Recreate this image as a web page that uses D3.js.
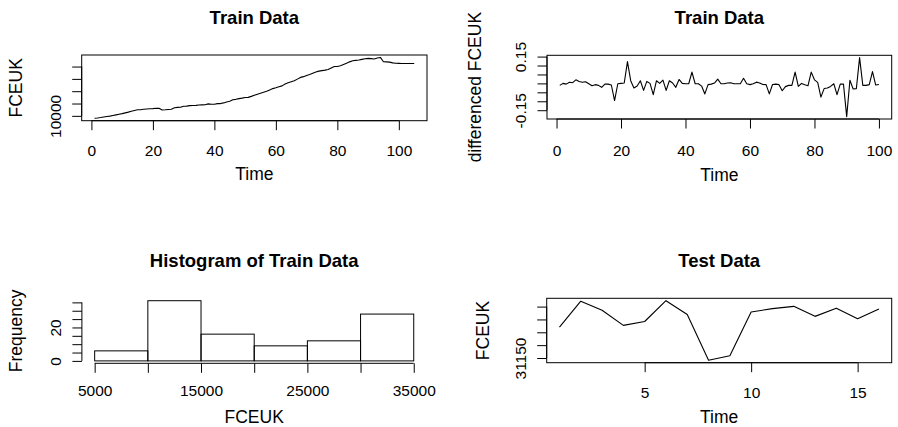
<!DOCTYPE html>
<html>
<head>
<meta charset="utf-8">
<script src="https://cdn.jsdelivr.net/npm/d3@7/dist/d3.min.js"></script>
<style>
  html, body { margin: 0; padding: 0; background: #fff; }
  svg { display: block; }
  text { font-family: "Liberation Sans", Arial, Helvetica, sans-serif; fill: #000; }
</style>
</head>
<body>
<svg id="chart" width="898" height="427"></svg>
<script>
// ---------------- DATA ----------------
const trainValues = [
  9020, 9150, 9330, 9560, 9750, 9900, 10150, 10400, 10650, 10900,
  11200, 11500, 11850, 12200, 12450, 12500, 12650, 12750, 12850, 12950,
  13100, 13050, 12350, 12450, 12600, 12700, 13300, 13450, 13500, 13900,
  13950, 14150, 14200, 14250, 14400, 14450, 14500, 14850, 14700, 14700,
  14950, 14980, 15250, 15650, 15950, 16500, 16700, 17000, 17200, 17450,
  17500, 17900, 18350, 18800, 19200, 19600, 19950, 20500, 21050, 21400,
  21800, 22150, 22900, 23400, 23800, 24200, 24900, 25600, 25900, 26400,
  26800, 27300, 27800, 28150, 28350, 28550, 28800, 29400, 30000, 30050,
  30300, 30800, 31300, 31900, 32350, 32500, 32650, 32900, 33150, 33300,
  33200, 33050, 33450, 33700, 31950, 31900, 31800, 31500, 31350, 31300,
  31250, 31250, 31250, 31250, 31250
];
const diffValues = [
  -0.011, 0.000, -0.004, 0.006, 0.004, 0.020, 0.011, 0.006, 0.009, -0.002,
  -0.013, -0.007, -0.011, -0.022, -0.004, -0.004, -0.009, -0.096, -0.002, 0.000,
  0.002, 0.122, 0.015, -0.026, -0.015, 0.015, -0.039, 0.011, 0.000, -0.063,
  0.015, 0.000, 0.018, -0.039, 0.015, 0.002, -0.022, 0.022, 0.000, -0.002,
  -0.002, 0.063, -0.002, -0.002, -0.015, -0.059, -0.007, -0.004, 0.002, 0.024,
  -0.002, -0.002, 0.002, 0.004, -0.002, -0.002, -0.002, 0.029, -0.002, -0.007,
  -0.002, 0.007, 0.002, -0.006, -0.007, -0.059, -0.006, -0.004, -0.007, -0.041,
  -0.018, -0.011, -0.011, 0.063, -0.017, 0.000, -0.007, -0.013, 0.063, 0.020,
  0.006, -0.077, -0.029, -0.026, -0.017, -0.002, -0.063, -0.004, -0.004, -0.186,
  0.018, -0.031, -0.029, 0.144, -0.011, -0.011, -0.007, 0.066, -0.009, -0.006
];
const histBreaks = [5000, 10000, 15000, 20000, 25000, 30000, 35000];
const histCounts = [6, 36, 16, 9, 12, 28];
const testValues = [
  31270, 31371, 31336, 31277, 31292, 31373, 31319, 31141,
  31159, 31329, 31342, 31351, 31312, 31344, 31303, 31341
];

// tick values / labels (empty label = suppressed, as in the original)
const trainXTicks = [0, 20, 40, 60, 80, 100];
const trainYTicks = [10000, 15000, 20000, 25000, 30000];
const trainYLabels = ["10000", "", "", "", ""];
const diffXTicks = [0, 20, 40, 60, 80, 100];
const diffYTicks = [-0.15, -0.10, -0.05, 0, 0.05, 0.10, 0.15];
const diffYLabels = ["-0.15", "", "", "", "", "", "0.15"];
const histXTicks = [5000, 10000, 15000, 20000, 25000, 30000, 35000];
const histXLabels = ["5000", "", "15000", "", "25000", "", "35000"];
const histYTicks = [0, 5, 10, 15, 20, 25, 30, 35];
const histYLabels = ["0", "", "", "", "20", "", "", ""];
const testXTicks = [5, 10, 15];
const testYTicks = [31150, 31200, 31250, 31300, 31350];
const testYLabels = ["31150", "", "", "", ""];

const titles = ["Train Data", "Train Data", "Histogram of Train Data", "Test Data"];

// ---------------- HELPERS ----------------
const svg = d3.select("#chart");
const TICK = 9.5, FS_TICK = 15.5, FS_LAB = 17.5, FS_TITLE = 18.5;

function rExt([a, b]) { const d = (b - a) * 0.04; return [a - d, b + d]; }

function bottomAxis(xs, yPos, ticks, labels, labelBase) {
  const g = svg.append("g").attr("transform", `translate(0,${yPos})`);
  g.call(d3.axisBottom(xs).tickValues(ticks).tickSize(TICK).tickSizeOuter(0)
    .tickFormat((d, i) => labels ? labels[i] : String(d)));
  g.select(".domain").remove();
  g.append("line").attr("x1", xs(ticks[0])).attr("x2", xs(ticks[ticks.length - 1]))
    .attr("y1", 0).attr("y2", 0).attr("stroke", "#000");
  g.selectAll(".tick line").attr("stroke", "#000");
  g.selectAll(".tick text").attr("y", labelBase - yPos).attr("dy", null)
    .attr("font-size", FS_TICK).attr("fill", "#000").style("font-family", "Liberation Sans, Arial, sans-serif");
}

function leftAxis(ys, xPos, ticks, labels, labelBase) {
  const g = svg.append("g").attr("transform", `translate(${xPos},0)`);
  g.call(d3.axisLeft(ys).tickValues(ticks).tickSize(TICK).tickSizeOuter(0)
    .tickFormat((d, i) => labels[i]));
  g.select(".domain").remove();
  g.append("line").attr("y1", ys(ticks[0])).attr("y2", ys(ticks[ticks.length - 1]))
    .attr("x1", 0).attr("x2", 0).attr("stroke", "#000");
  g.selectAll(".tick line").attr("stroke", "#000");
  g.selectAll(".tick text")
    .attr("x", null).attr("dy", null)
    .attr("text-anchor", "middle")
    .attr("transform", `translate(${labelBase - xPos},0) rotate(-90)`)
    .attr("font-size", FS_TICK).attr("fill", "#000").style("font-family", "Liberation Sans, Arial, sans-serif");
}

function title(txt, cx, base) {
  svg.append("text").attr("x", cx).attr("y", base).attr("text-anchor", "middle")
    .attr("font-size", FS_TITLE).attr("font-weight", "bold").text(txt);
}
function xlab(txt, cx, base) {
  svg.append("text").attr("x", cx).attr("y", base).attr("text-anchor", "middle")
    .attr("font-size", FS_LAB).text(txt);
}
function ylab(txt, base, cy) {
  svg.append("text").attr("transform", `translate(${base},${cy}) rotate(-90)`)
    .attr("text-anchor", "middle").attr("font-size", FS_LAB).text(txt);
}
function box(x0, x1, y0, y1) {
  svg.append("rect").attr("x", x0).attr("y", y0).attr("width", x1 - x0).attr("height", y1 - y0)
    .attr("fill", "none").attr("stroke", "#000").attr("stroke-width", 1);
}
function seriesLine(values, xs, ys) {
  svg.append("path").datum(values)
    .attr("fill", "none").attr("stroke", "#000").attr("stroke-width", 1.1)
    .attr("stroke-linejoin", "round")
    .attr("d", d3.line().x((d, i) => xs(i + 1)).y(d => ys(d)));
}

// ---------------- PANEL 1: Train Data ----------------
{
  const L = 81.7, R = 427, T = 55, B = 120.7;
  const xs = d3.scaleLinear().domain(rExt([1, trainValues.length])).range([L, R]);
  const ys = d3.scaleLinear().domain(rExt(d3.extent(trainValues))).range([B, T]);
  seriesLine(trainValues, xs, ys);
  box(L, R, T, B);
  bottomAxis(xs, B, trainXTicks, null, 156);
  leftAxis(ys, L, trainYTicks, trainYLabels, 61);
  title(titles[0], (L + R) / 2, 24);
  xlab("Time", (L + R) / 2, 180);
  ylab("FCEUK", 21.5, (T + B) / 2);
}

// ---------------- PANEL 2: differenced ----------------
{
  const L = 547, R = 891.7, T = 55.3, B = 119;
  const xs = d3.scaleLinear().domain(rExt([1, diffValues.length])).range([L, R]);
  const ys = d3.scaleLinear().domain(rExt(d3.extent(diffValues))).range([B, T]);
  seriesLine(diffValues, xs, ys);
  box(L, R, T, B);
  bottomAxis(xs, B, diffXTicks, null, 156);
  leftAxis(ys, L, diffYTicks, diffYLabels, 526);
  title(titles[1], (L + R) / 2, 24);
  xlab("Time", (L + R) / 2, 181);
  ylab("differenced FCEUK", 481, (T + B) / 2);
}

// ---------------- PANEL 3: Histogram ----------------
{
  const L = 81.9, R = 426.5, T = 298.3, B = 363.3;
  const xs = d3.scaleLinear().domain(rExt([histBreaks[0], histBreaks[histBreaks.length - 1]])).range([L, R]);
  const ys = d3.scaleLinear().domain(rExt([0, d3.max(histCounts)])).range([B, T]);
  svg.append("g").selectAll("rect").data(histCounts).join("rect")
    .attr("x", (d, i) => xs(histBreaks[i]))
    .attr("width", (d, i) => xs(histBreaks[i + 1]) - xs(histBreaks[i]))
    .attr("y", d => ys(d))
    .attr("height", d => ys(0) - ys(d))
    .attr("fill", "none").attr("stroke", "#000").attr("stroke-width", 1);
  bottomAxis(xs, B, histXTicks, histXLabels, 396.5);
  leftAxis(ys, L, histYTicks, histYLabels, 61);
  title(titles[2], (L + R) / 2, 267);
  xlab("FCEUK", (L + R) / 2, 423);
  ylab("Frequency", 21.5, (T + B) / 2);
}

// ---------------- PANEL 4: Test Data ----------------
{
  const L = 546.7, R = 891.7, T = 298.3, B = 362.7;
  const xs = d3.scaleLinear().domain(rExt([1, testValues.length])).range([L, R]);
  const ys = d3.scaleLinear().domain(rExt(d3.extent(testValues))).range([B, T]);
  seriesLine(testValues, xs, ys);
  box(L, R, T, B);
  bottomAxis(xs, B, testXTicks, null, 398);
  leftAxis(ys, L, testYTicks, testYLabels, 526);
  title(titles[3], (L + R) / 2, 267);
  xlab("Time", (L + R) / 2, 423);
  ylab("FCEUK", 488.5, (T + B) / 2);
}
</script>
</body>
</html>
